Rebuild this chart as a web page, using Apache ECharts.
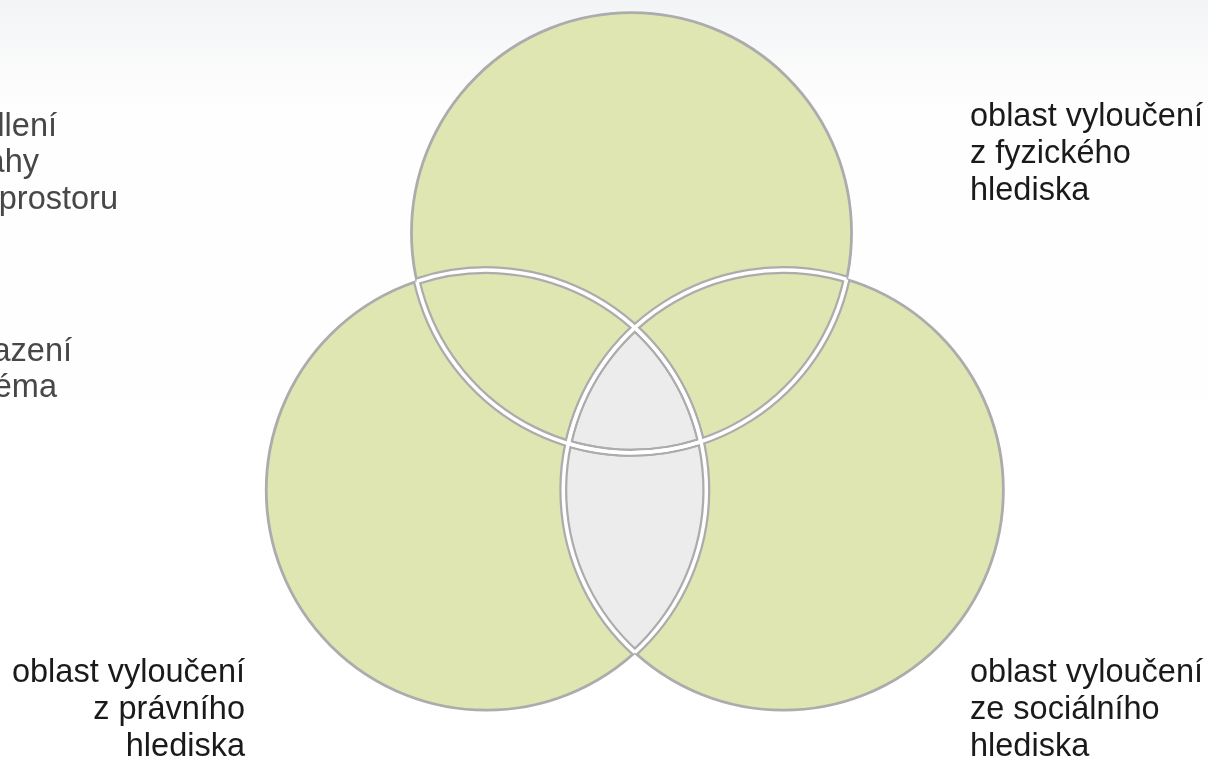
<!DOCTYPE html>
<html><head><meta charset="utf-8">
<script src="https://cdn.jsdelivr.net/npm/echarts@6/dist/echarts.min.js"></script>
<style>html,body{margin:0;padding:0;background:#fff}#c{width:1208px;height:762px}</style>
</head><body><div id="c"></div>
<script>
// ---- data ----
const setNames = ['oblast vyloučení\nz fyzického\nhlediska', 'oblast vyloučení\nz právního\nhlediska', 'oblast vyloučení\nze sociálního\nhlediska'];
const centerX = [-0.01, -0.67, 0.68];   // circle centres (radius units)
const centerY = [1.17, 0, 0];
const radius = [1, 1, 1];
const grayPairs = [[1, 2]];             // overlap drawn in grey
const sideNotesA = ['bydlení', 'vztahy', 'veřejného prostoru'];
const sideNotesB = ['zařazení', 'schéma'];

// ---- layout ----
const xRange = [-2.88, 2.61];
const yRange = [-1.236, 2.228];
const FONT = '32.5px "Liberation Sans", Arial, sans-serif';
const GREEN = '#dfe6b1', GREYFILL = '#ececec', EDGE = '#acacac';

const circleData = centerX.map((x, i) => [x, centerY[i], radius[i]]);
const pairData = [];
centerX.forEach((x, i) => centerX.forEach((x2, j) => {
  if (i !== j) pairData.push([centerX[i], centerY[i], radius[i], centerX[j], centerY[j], radius[j]]);
}));
const grayData = grayPairs.map(([i, j]) => [centerX[i], centerY[i], radius[i], centerX[j], centerY[j], radius[j]]);

function toPx(api, o) {
  const p1 = api.coord([api.value(o), api.value(o + 1)]);
  const r = api.size([api.value(o + 2), 0])[0];
  return { x: p1[0], y: p1[1], r: r };
}
function arcInside(a, b) {
  const dx = b.x - a.x, dy = b.y - a.y, d = Math.hypot(dx, dy);
  const ax = (a.r * a.r - b.r * b.r + d * d) / (2 * d);
  const half = Math.acos(Math.max(-1, Math.min(1, ax / a.r)));
  const th = Math.atan2(dy, dx);
  return { th: th, half: half };
}
function arcEl(api, style) {
  const a = toPx(api, 0), b = toPx(api, 3);
  const s = arcInside(a, b);
  return { type: 'arc', shape: { cx: a.x, cy: a.y, r: a.r, startAngle: s.th - s.half, endAngle: s.th + s.half, clockwise: true },
           style: Object.assign({ fill: null }, style) };
}

const option = {
  animation: false,
  grid: { left: 0, right: 0, top: 0, bottom: 0 },
  xAxis: { type: 'value', min: xRange[0], max: xRange[1], show: false },
  yAxis: { type: 'value', min: yRange[0], max: yRange[1], show: false },
  graphic: [
    { type: 'rect', z: 0, shape: { x: 0, y: 0, width: 1208, height: 762 },
      style: { fill: { type: 'linear', x: 0, y: 0, x2: 0, y2: 1,
        colorStops: [{ offset: 0, color: '#f3f4f6' }, { offset: 0.14, color: '#fefefe' }, { offset: 1, color: '#ffffff' }] } } },
    { type: 'text', z: 100, x: 970, y: 99, style: { text: setNames[0], font: FONT, fill: '#1a1a1a', textAlign: 'left', align: 'left', textVerticalAlign: 'top', verticalAlign: 'top', lineHeight: 37 } },
    { type: 'text', z: 100, x: 245, y: 655, style: { text: setNames[1], font: FONT, fill: '#1a1a1a', textAlign: 'right', align: 'right', textVerticalAlign: 'top', verticalAlign: 'top', lineHeight: 37 } },
    { type: 'text', z: 100, x: 970, y: 655, style: { text: setNames[2], font: FONT, fill: '#1a1a1a', textAlign: 'left', align: 'left', textVerticalAlign: 'top', verticalAlign: 'top', lineHeight: 37 } },
    ...sideNotesA.map((t, k) => ({ type: 'text', z: 100, x: [57, 39, 118][k], y: [127, 163, 200][k],
      style: { text: t, font: FONT, fill: '#474747', textAlign: 'right', align: 'right', textVerticalAlign: 'middle', verticalAlign: 'middle' } })),
    ...sideNotesB.map((t, k) => ({ type: 'text', z: 100, x: [72, 57][k], y: [352, 388][k],
      style: { text: t, font: FONT, fill: '#474747', textAlign: 'right', align: 'right', textVerticalAlign: 'middle', verticalAlign: 'middle' } }))
  ],
  series: [
    { type: 'custom', silent: true, data: circleData,
      renderItem: (params, api) => {
        const c = toPx(api, 0);
        return { type: 'circle', shape: { cx: c.x, cy: c.y, r: c.r }, style: { fill: GREEN, stroke: EDGE, lineWidth: 2.8 } };
      } },
    { type: 'custom', silent: true, data: grayData,
      renderItem: (params, api) => {
        const a = toPx(api, 0), b = toPx(api, 3);
        const s1 = arcInside(a, b), s2 = arcInside(b, a);
        const q1 = [a.x + a.r * Math.cos(s1.th - s1.half), a.y + a.r * Math.sin(s1.th - s1.half)];
        const q2 = [a.x + a.r * Math.cos(s1.th + s1.half), a.y + a.r * Math.sin(s1.th + s1.half)];
        const l1 = 2 * s1.half > Math.PI ? 1 : 0, l2 = 2 * s2.half > Math.PI ? 1 : 0;
        const d = 'M' + q1[0] + ' ' + q1[1] + ' A' + a.r + ' ' + a.r + ' 0 ' + l1 + ' 1 ' + q2[0] + ' ' + q2[1] +
                  ' A' + b.r + ' ' + b.r + ' 0 ' + l2 + ' 1 ' + q1[0] + ' ' + q1[1] + ' Z';
        return { type: 'path', shape: { pathData: d }, style: { fill: GREYFILL, stroke: null } };
      } },
    { type: 'custom', silent: true, data: pairData,
      renderItem: (params, api) => arcEl(api, { stroke: EDGE, lineWidth: 8 }) },
    { type: 'custom', silent: true, data: pairData,
      renderItem: (params, api) => arcEl(api, { stroke: '#ffffff', lineWidth: 3.5 }) }
  ]
};
const chart = echarts.init(document.getElementById('c'));
chart.setOption(option);
</script>
</body></html>
